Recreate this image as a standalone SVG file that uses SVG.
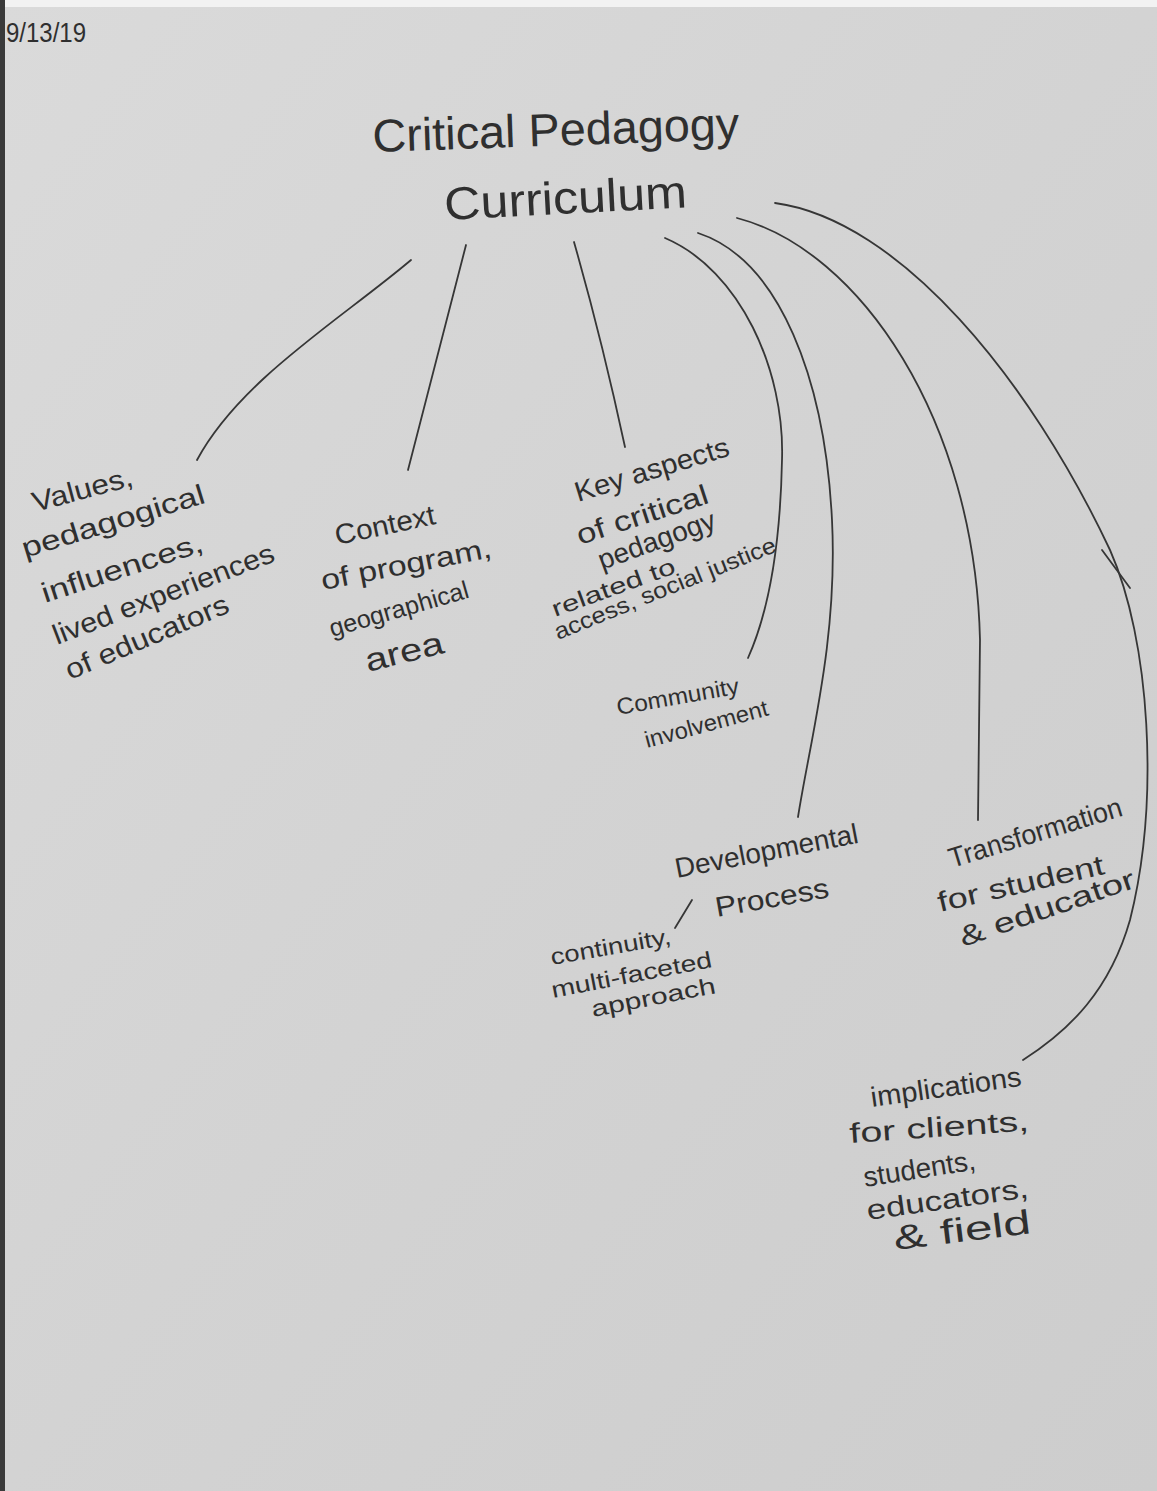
<svg xmlns="http://www.w3.org/2000/svg" width="1157" height="1491" viewBox="0 0 1157 1491">
  <defs>
    <linearGradient id="paper" x1="0" y1="0" x2="1" y2="1">
      <stop offset="0" stop-color="#dadada"/>
      <stop offset="0.5" stop-color="#d3d3d3"/>
      <stop offset="1" stop-color="#cdcdcd"/>
    </linearGradient>
  </defs>
  <style>
    .hw { font-family: "Liberation Sans", "DejaVu Sans", sans-serif; fill: #2f2f2f; }
    .big { font-size: 46px; }
    .mid { font-size: 28px; }
    .sm { font-size: 23px; }
    .link { fill: none; stroke: #363636; stroke-width: 1.8; stroke-linecap: round; }
  </style>
  <rect x="0" y="0" width="1157" height="1491" fill="url(#paper)"/>
  <rect x="0" y="0" width="1157" height="7" fill="#f2f2f2"/>
  <rect x="0" y="0" width="5" height="1491" fill="#3a3a3a"/>

  <g id="date">
    <text class="hw mid" x="6" y="42" textLength="80" lengthAdjust="spacingAndGlyphs">9/13/19</text>
  </g>

  <g id="connectors">
    <path class="link" d="M411,260 C340,320 240,380 197,460"/>
    <path class="link" d="M466,245 L408,470"/>
    <path class="link" d="M574,242 Q602,340 625,447"/>
    <path class="link" d="M665,238 C740,270 785,370 782,460 C780,560 765,620 748,658"/>
    <path class="link" d="M698,233 C780,260 825,380 832,520 C838,640 810,740 798,817"/>
    <path class="link" d="M737,218 C860,250 975,420 980,640 L978,820"/>
    <path class="link" d="M775,203 C900,220 1030,380 1110,550 C1150,640 1160,800 1130,920 C1110,990 1070,1030 1023,1060"/>
    <path class="link" d="M1102,550 L1130,588"/>
    <path class="link" d="M692,900 L675,928"/>
  </g>

  <g id="center">
    <text class="hw big" transform="translate(373,152) rotate(-2)" textLength="367" lengthAdjust="spacingAndGlyphs">Critical Pedagogy</text>
    <text class="hw big" transform="translate(445,220) rotate(-3)" textLength="243" lengthAdjust="spacingAndGlyphs">Curriculum</text>
  </g>

  <g id="values">
    <text class="hw mid" transform="translate(35,512) rotate(-15)" textLength="103" lengthAdjust="spacingAndGlyphs">Values,</text>
    <text class="hw mid" transform="translate(25,558) rotate(-17)" textLength="190" lengthAdjust="spacingAndGlyphs">pedagogical</text>
    <text class="hw mid" transform="translate(45,603) rotate(-18)" textLength="168" lengthAdjust="spacingAndGlyphs">influences,</text>
    <text class="hw mid" transform="translate(57,645) rotate(-21)" textLength="235" lengthAdjust="spacingAndGlyphs">lived experiences</text>
    <text class="hw mid" transform="translate(70,680) rotate(-23)" textLength="175" lengthAdjust="spacingAndGlyphs">of educators</text>
  </g>

  <g id="context">
    <text class="hw mid" transform="translate(337,545) rotate(-12)" textLength="102" lengthAdjust="spacingAndGlyphs">Context</text>
    <text class="hw mid" transform="translate(323,590) rotate(-11)" textLength="173" lengthAdjust="spacingAndGlyphs">of program,</text>
    <text class="hw" font-size="25" transform="translate(332,637) rotate(-16)" textLength="144" lengthAdjust="spacingAndGlyphs">geographical</text>
    <text class="hw" font-size="32" transform="translate(368,672) rotate(-14)" textLength="80" lengthAdjust="spacingAndGlyphs">area</text>
  </g>

  <g id="key-aspects">
    <text class="hw mid" transform="translate(578,502) rotate(-17)" textLength="160" lengthAdjust="spacingAndGlyphs">Key aspects</text>
    <text class="hw mid" transform="translate(580,545) rotate(-18)" textLength="137" lengthAdjust="spacingAndGlyphs">of critical</text>
    <text class="hw mid" transform="translate(602,570) rotate(-20)" textLength="123" lengthAdjust="spacingAndGlyphs">pedagogy</text>
    <text class="hw sm" transform="translate(555,617) rotate(-20)" textLength="130" lengthAdjust="spacingAndGlyphs">related to</text>
    <text class="hw sm" transform="translate(558,640) rotate(-22)" textLength="237" lengthAdjust="spacingAndGlyphs">access, social justice</text>
  </g>

  <g id="community">
    <text class="hw sm" transform="translate(618,715) rotate(-10)" textLength="124" lengthAdjust="spacingAndGlyphs">Community</text>
    <text class="hw sm" transform="translate(647,748) rotate(-15)" textLength="127" lengthAdjust="spacingAndGlyphs">involvement</text>
  </g>

  <g id="developmental">
    <text class="hw mid" transform="translate(677,878) rotate(-11)" textLength="186" lengthAdjust="spacingAndGlyphs">Developmental</text>
    <text class="hw mid" transform="translate(717,917) rotate(-10)" textLength="115" lengthAdjust="spacingAndGlyphs">Process</text>
  </g>

  <g id="continuity">
    <text class="hw sm" transform="translate(552,965) rotate(-10)" textLength="122" lengthAdjust="spacingAndGlyphs">continuity,</text>
    <text class="hw sm" transform="translate(553,998) rotate(-11)" textLength="163" lengthAdjust="spacingAndGlyphs">multi-faceted</text>
    <text class="hw sm" transform="translate(593,1017) rotate(-11)" textLength="126" lengthAdjust="spacingAndGlyphs">approach</text>
  </g>

  <g id="transformation">
    <text class="hw mid" transform="translate(952,868) rotate(-17)" textLength="180" lengthAdjust="spacingAndGlyphs">Transformation</text>
    <text class="hw mid" transform="translate(940,912) rotate(-13)" textLength="170" lengthAdjust="spacingAndGlyphs">for student</text>
    <text class="hw mid" transform="translate(963,947) rotate(-19)" textLength="184" lengthAdjust="spacingAndGlyphs">&amp; educator</text>
  </g>

  <g id="implications">
    <text class="hw mid" transform="translate(872,1107) rotate(-8)" textLength="152" lengthAdjust="spacingAndGlyphs">implications</text>
    <text class="hw mid" transform="translate(850,1143) rotate(-4)" textLength="180" lengthAdjust="spacingAndGlyphs">for clients,</text>
    <text class="hw mid" transform="translate(865,1187) rotate(-9)" textLength="113" lengthAdjust="spacingAndGlyphs">students,</text>
    <text class="hw mid" transform="translate(868,1220) rotate(-8)" textLength="163" lengthAdjust="spacingAndGlyphs">educators,</text>
    <text class="hw" font-size="34" transform="translate(895,1250) rotate(-7)" textLength="138" lengthAdjust="spacingAndGlyphs">&amp; field</text>
  </g>
</svg>
